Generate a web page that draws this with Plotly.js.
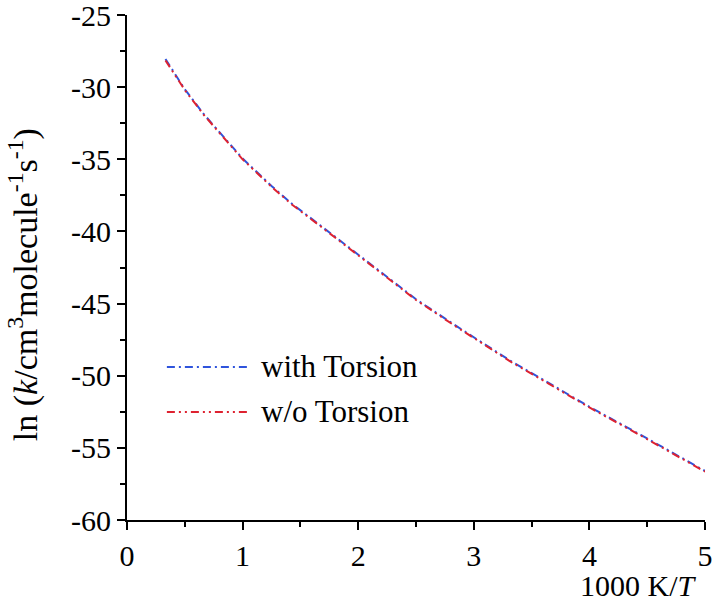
<!DOCTYPE html>
<html>
<head>
<meta charset="utf-8">
<script src="https://cdn.plot.ly/plotly-3.0.1.min.js"></script>
<style>
  html, body { margin: 0; padding: 0; background: #ffffff; }
  #chart { width: 713px; height: 602px; }
</style>
</head>
<body>
<div id="chart"></div>
<script>
// 1000 K / T values
const invT = [0.333, 0.4, 0.5, 0.667, 0.833, 1.0, 1.25, 1.429, 1.667, 2.0, 2.222, 2.5, 2.857, 3.333, 3.636, 4.0, 4.444, 5.0];
// ln k, with torsion
const lnkWith = [-28.05, -28.9, -30.15, -31.9, -33.45, -34.95, -36.85, -38.1, -39.55, -41.6, -43.0, -44.7, -46.6, -49.05, -50.45, -52.15, -54.1, -56.6];
// ln k, without torsion
const lnkWithout = [-28.15, -28.95, -30.2, -31.95, -33.5, -35.0, -36.9, -38.15, -39.6, -41.65, -43.05, -44.75, -46.65, -49.1, -50.5, -52.2, -54.15, -56.65];
const seriesNames = ["with Torsion", "w/o Torsion"];
const seriesColors = ["#2f54dc", "#de2230"];
const seriesDash = ["8px,4px,2px,4px", "8px,4px,2px,4px,2px,4px"];
const xTicks = [0, 1, 2, 3, 4, 5];
const yTicks = [-60, -55, -50, -45, -40, -35, -30, -25];

const FONT = "Liberation Serif";

const traces = [
  { x: invT, y: lnkWith, name: seriesNames[0], mode: "lines", line: { color: seriesColors[0], width: 2, dash: seriesDash[0] } },
  { x: invT, y: lnkWithout, name: seriesNames[1], mode: "lines", line: { color: seriesColors[1], width: 2, dash: seriesDash[1] } }
];

// custom legend (long line samples like the original)
const legendY = [0.303, 0.214];
const shapes = [];
const annotations = [];
for (let i = 0; i < 2; i++) {
  shapes.push({ type: "line", xref: "paper", yref: "paper", x0: 0.069, x1: 0.209, y0: legendY[i], y1: legendY[i],
    line: { color: seriesColors[i], width: 2, dash: seriesDash[i] } });
  annotations.push({ xref: "paper", yref: "paper", x: 0.228, y: legendY[i], xanchor: "left", yanchor: "middle",
    text: seriesNames[i], showarrow: false, font: { family: FONT, size: 31, color: "#000" } });
}
// axis titles placed like the original
annotations.push({ xref: "paper", yref: "paper", x: 1, y: 0, xanchor: "right", yanchor: "middle", yshift: -65, xshift: -6,
  text: "1000 K/<i>T</i>", showarrow: false, font: { family: FONT, size: 30, color: "#000" } });
annotations.push({ xref: "paper", yref: "paper", x: 0, y: 0.465, xanchor: "center", yanchor: "middle", xshift: -104, textangle: -90,
  text: "ln (<i>k</i>/cm<sup>3</sup>molecule<sup>-1</sup>s<sup>-1</sup>)", showarrow: false, font: { family: FONT, size: 34, color: "#000" } });

const axisCommon = {
  showgrid: false, zeroline: false, showline: true, linecolor: "#000", linewidth: 2,
  ticks: "outside", tickwidth: 2, tickcolor: "#000", ticklabeloverflow: "allow",
  tickfont: { family: FONT, size: 30, color: "#000" }
};

const layout = {
  width: 713, height: 602,
  margin: { l: 127, r: 8, t: 15, b: 82 },
  paper_bgcolor: "#ffffff", plot_bgcolor: "#ffffff",
  showlegend: false,
  font: { family: FONT, size: 30, color: "#000" },
  xaxis: Object.assign({}, axisCommon, {
    range: [0, 5], tickvals: xTicks, ticktext: xTicks.map(String), ticklen: 8,
    minor: { dtick: 0.5, ticks: "outside", ticklen: 5, tickwidth: 2, tickcolor: "#000", showgrid: false }
  }),
  yaxis: Object.assign({}, axisCommon, {
    range: [-60, -25], tickvals: yTicks, ticktext: yTicks.map(String), ticklen: 8,
    minor: { dtick: 2.5, ticks: "outside", ticklen: 5, tickwidth: 2, tickcolor: "#000", showgrid: false }
  }),
  shapes: shapes,
  annotations: annotations
};

Plotly.newPlot("chart", traces, layout, { displayModeBar: false, staticPlot: true });
</script>
</body>
</html>
